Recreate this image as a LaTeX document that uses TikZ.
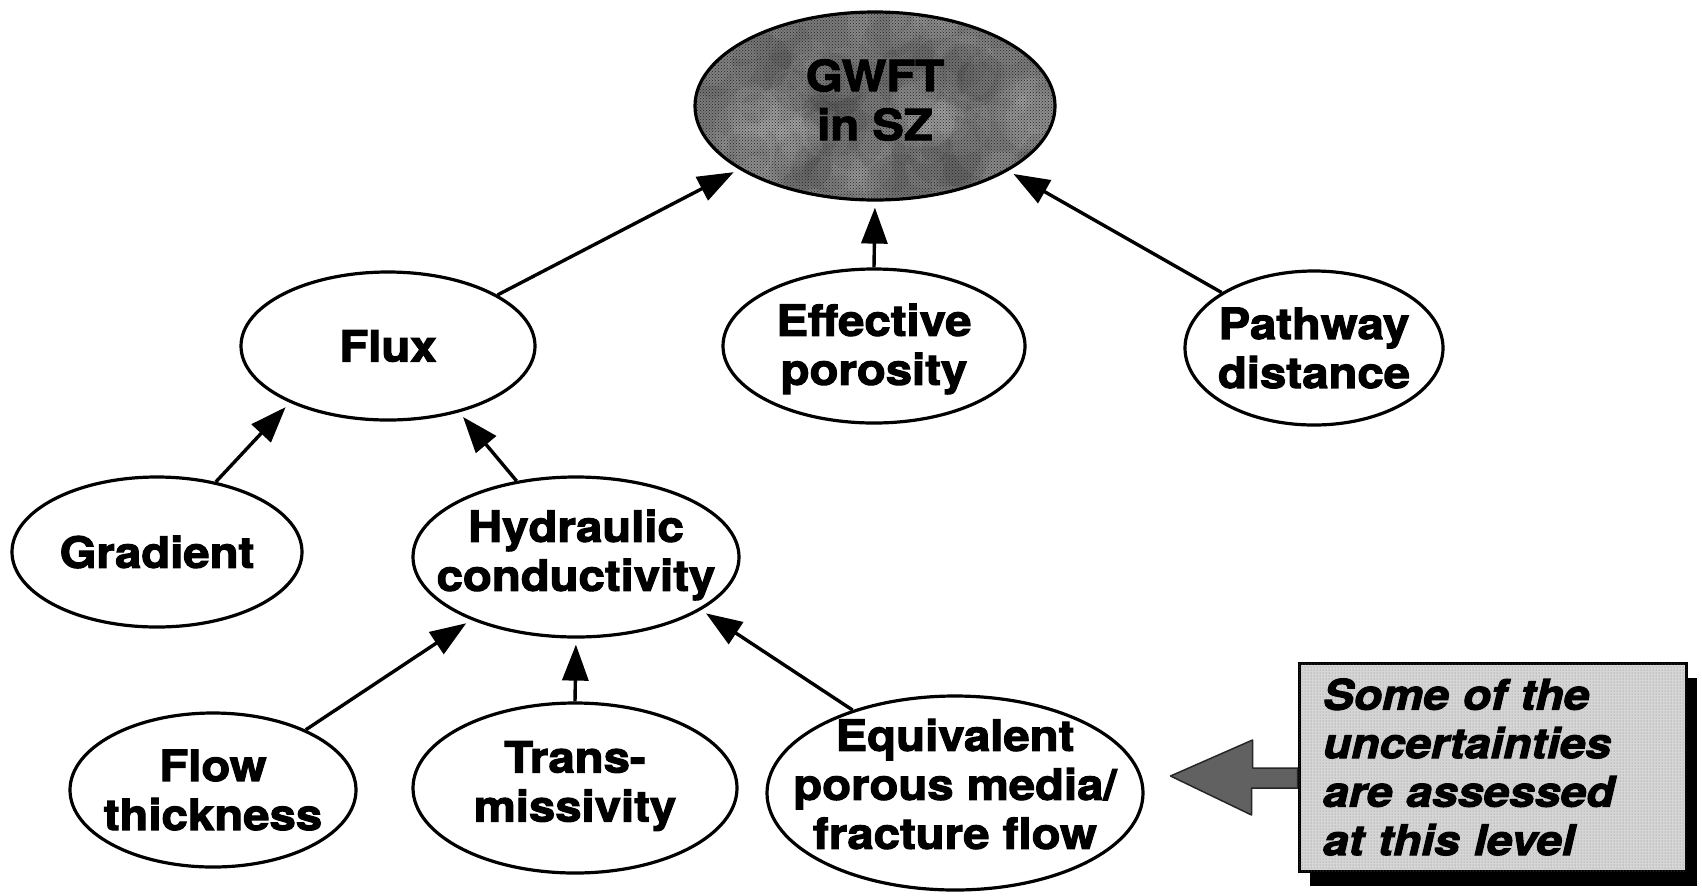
\documentclass[tikz,border=0pt]{standalone}
\usepackage{fontspec}
\setmainfont{TeX Gyre Heros}[FakeStretch=1.1, BoldFeatures={FakeBold=2.5}, BoldItalicFeatures={FakeBold=2.5}]
\usetikzlibrary{shapes.geometric,arrows.meta,calc,shadows,patterns}

\begin{document}
\begin{tikzpicture}[x=1pt,y=-1pt,
  ell/.style={ellipse, draw=black, line width=3.2pt, inner sep=0pt, fill=white},
  lbl/.style={font=\bfseries\fontsize{43}{49}\selectfont, align=center, inner sep=0pt, text=black},
  link/.style={line width=3.4pt, -{Triangle[length=36pt,width=26pt]}, shorten >=6pt},
  notebox/.style={rectangle, draw=black, line width=3pt, fill=black!16,
    postaction={pattern=dots, pattern color=black!50},
    inner xsep=23pt, inner ysep=0pt, text width=339pt, align=left,
    font=\bfseries\itshape\fontsize{42}{48.5}\selectfont,
    drop shadow={shadow xshift=11pt, shadow yshift=-15pt, fill=black, opacity=1}},
  bigarrow/.style={fill=black!62, draw=black!85, line width=1.5pt, line join=round}
]
\useasboundingbox (0,0) rectangle (1702,895);

% top node: mottled halftone grey ellipse
\node[ell, fill=black!52, minimum width=360pt, minimum height=188pt] (gwft) at (875,106) {};
\begin{scope}
  \clip (875,106) ellipse [x radius=178pt, y radius=92pt];
  \pgfmathsetseed{41}
  \foreach \i in {1,...,110}{
    \pgfmathsetmacro{\px}{875+180*rand}
    \pgfmathsetmacro{\py}{106+95*rand}
    \pgfmathsetmacro{\pr}{14+24*rnd}
    \pgfmathsetmacro{\pc}{ifthenelse(rnd>0.5,0,100)}
    \fill[black!\pc, opacity=0.06] (\px,\py) circle [radius=\pr pt];
  }
  \fill[pattern=crosshatch dots, pattern color=black!85] (690,10) rectangle (1060,205);
\end{scope}
\node[lbl] (gwfttext) at (gwft) [yshift=6pt] {GWFT\\in SZ};

% second level
\node[ell, minimum width=294pt, minimum height=148pt,
  label={[lbl]center:Flux}] (flux) at (388,346) {};
\node[ell, minimum width=302pt, minimum height=154pt,
  label={[lbl, yshift=-3pt]center:{Effective\\porosity}}] (poro) at (874,346) {};
\node[ell, minimum width=258pt, minimum height=154pt,
  label={[lbl]center:{Pathway\\distance}}] (path) at (1314,348) {};

% third level
\node[ell, minimum width=290pt, minimum height=150pt,
  label={[lbl]center:Gradient}] (grad) at (157,552) {};
\node[ell, minimum width=326pt, minimum height=160pt,
  label={[lbl, yshift=2pt]center:{Hydraulic\\conductivity}}] (hyd) at (576,557) {};

% bottom level
\node[ell, minimum width=286pt, minimum height=154pt,
  label={[lbl]center:{Flow\\thickness}}] (flow) at (213,790) {};
\node[ell, minimum width=324pt, minimum height=170pt,
  label={[lbl, yshift=2pt]center:{Trans-\\missivity}}] (trans) at (575,788) {};
\node[ell, minimum width=376pt, minimum height=194pt,
  label={[lbl, yshift=9pt]center:{Equivalent\\porous media/\\fracture flow}}] (epm) at (955,793) {};

% influence arrows
\draw[link] (flux.25)  -- (gwft.205);
\draw[link] (poro.90)  -- (gwft.270);
\draw[link] (path.149) -- (gwft.334);
\draw[link] (grad.50)  -- (flux.210);
\draw[link] (hyd.128)  -- (flux.317);
\draw[link] (flow.33)  -- (hyd.211);
\draw[link] (trans.90) -- (hyd.270);
\draw[link] (epm.141)  -- (hyd.337);

% side note with its pointer
\node[notebox, minimum width=387pt, minimum height=208pt] (note) at (1492.5,767)
  {Some of the\\uncertainties\\are assessed\\at this level};
\filldraw[bigarrow, shift={(note.west)}]
  (0,1) -- (-45,1) -- (-45,-27) -- (-127,9) -- (-46,48) -- (-46,21) -- (0,21) -- cycle;
\end{tikzpicture}
\end{document}
